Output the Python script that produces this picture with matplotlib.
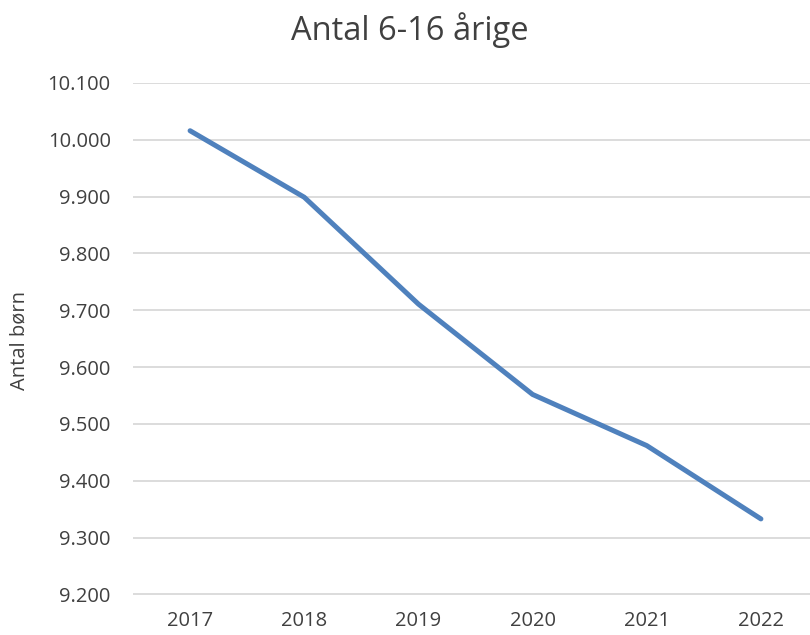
import matplotlib
matplotlib.use("Agg")
import matplotlib.pyplot as plt
from matplotlib.ticker import FuncFormatter

# data
years = ["2017", "2018", "2019", "2020", "2021", "2022"]
children = [10016, 9899, 9711, 9552, 9462, 9333]
y_ticks = [9200, 9300, 9400, 9500, 9600, 9700, 9800, 9900, 10000, 10100]

plt.rcParams['font.family'] = ['Open Sans', 'DejaVu Sans']

fig = plt.figure(figsize=(8.1, 6.35), dpi=100)
ax = fig.add_axes([133/810, 1-594.5/635, 685/810, (594.5-83)/635])

x = list(range(len(years)))
ax.plot(x, children, color='#4F81BD', linewidth=3.6, solid_capstyle='round',
        solid_joinstyle='round', zorder=3)

ax.set_xlim(-0.5, len(years)-0.5)
ax.set_ylim(9200, 10100)
ax.set_yticks(y_ticks)
ax.yaxis.set_major_formatter(FuncFormatter(lambda v, p: f"{int(v):,}".replace(",", ".")))
ax.set_xticks(x)
ax.set_xticklabels(years)

ax.grid(axis='y', color='#D9D9D9', linewidth=1.3, zorder=0)
for s in ax.spines.values():
    s.set_visible(False)
ax.tick_params(axis='both', length=0, labelsize=14.5, labelcolor='#404040')
ax.tick_params(axis='y', pad=16)
ax.tick_params(axis='x', pad=12)

fig.text(20/810, 1-340/635, "Antal børn", rotation=90, ha='center', va='center',
         fontsize=14.5, color='#404040')
fig.text(410/810, 1-30/635, "Antal 6-16 årige", ha='center', va='center',
         fontsize=23.5, color='#404040')

fig.savefig("out.png", dpi=100)
